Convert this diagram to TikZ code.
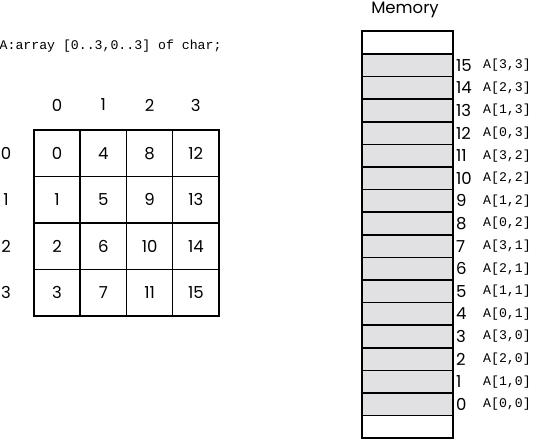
\documentclass[tikz,border=0pt]{standalone}
\usepackage{fontspec}
\setmainfont{Poppins}
\setmonofont{Liberation Mono}
\definecolor{cellgray}{HTML}{E1E1E3}

\begin{document}
\begin{tikzpicture}[
            x = 1pt, y = -1pt,
            every node/.style={inner sep=0pt, font=\fontsize{16.5}{16.5}\selectfont},
            line/.style={line width = 1.5pt},
            cell/.style={draw, line, minimum width=46.25pt, minimum height=46.5pt},
            word/.style={draw, line, fill=cellgray, minimum width=91pt, minimum height=22.6pt},
            code/.style={font=\ttfamily\fontsize{13.2}{13.2}\selectfont, anchor=west},
            ]
        \useasboundingbox (0,0) rectangle (533,439);

        % declaration
        \node[code] (decl) at (-0.5,46) {A:array [0..3,0..3] of char;};

        % the 4x4 array
        \foreach \i in {0,...,3} {
            \node (col\i) at (57.1+46.25*\i, 105) {\i};
            \node (row\i) at (6, 153.2+46.5*\i) {\i};
            \foreach \j in {0,...,3} {
                \pgfmathtruncatemacro\v{4*\i+\j}
                \node[cell] (c\i\j) at (57.1+46.25*\i, 153.2+46.5*\j) {\v};
            }
        }

        % memory
        \node (mem) at (405, 10) {Memory};
        \node[word, fill=white] (top) at (407.5, 42.3) {};
        \node[word, fill=white] (bot) at (407.5, 426.9) {};
        \foreach \n in {0,...,15} {
            \pgfmathtruncatemacro\r{mod(\n,4)}
            \pgfmathtruncatemacro\c{div(\n,4)}
            \node[word] (m\n) at (407.5, 404.3-22.6*\n) {};
            \node[anchor=west] (a\n) at (456, 404.3-22.6*\n) {\n};
            \node[code] (l\n) at (483, 404.3-22.6*\n) {A[\r,\c]};
        }
    \end{tikzpicture}
\end{document}
